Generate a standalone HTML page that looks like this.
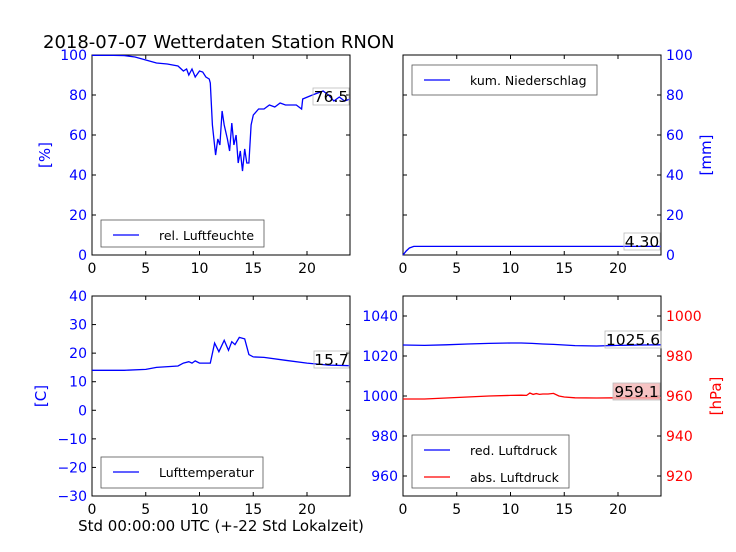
<!DOCTYPE html>
<html><head><meta charset="utf-8"><style>
body{margin:0;background:#fff;}
svg{display:block;font-family:"DejaVu Sans","Liberation Sans",sans-serif;}
</style></head><body>
<svg id="c" width="736" height="552"></svg>
<script>
const hours=[0,2,3,4,5,6,7,8,8.5,8.8,9,9.3,9.6,10,10.3,10.6,10.9,11,11.2,11.5,11.7,11.9,12.1,12.3,12.6,12.8,13,13.2,13.4,13.6,13.8,14,14.2,14.4,14.6,14.8,15,15.5,16,16.5,17,17.5,18,19,19.5,19.6,20.5,21.5,22,22.5,23,23.5,24];
const humidity=[99.8,99.8,99.7,99,97.5,96,95.5,94.5,92,93,90,93,89,92,91.5,89,88,86,65,50,58,55,72,65,58,52,66,55,60,46,52,42,53,46,46,65,70,73,73,75,74,76,75,75,73,78,80,82,80,77,79,77,78];
const tHours=[0,3,5,6,8,8.5,9,9.3,9.6,10,11,11.4,11.8,12.3,12.7,13,13.3,13.7,14.2,14.6,15,16,18,20,22,24];
const temperature=[14,14,14.3,15,15.5,16.5,17,16.5,17.3,16.5,16.5,23.5,20.5,24.5,21,24,23,25.5,25,19.5,18.7,18.5,17.5,16.5,15.8,15.6];
const rHours=[0,0.3,0.6,1,24];
const rain=[0,2,3.5,4.3,4.3];
const pHours=[0,2,4,6,8,10,11,12,13,14,15,16,18,20,22,24];
const pressRed=[1025.5,1025.3,1025.6,1026,1026.3,1026.5,1026.5,1026.3,1026,1025.8,1025.5,1025.2,1025,1025.3,1025.5,1025.6];
const pHoursAbs=[0,2,4,6,8,10,11,11.5,11.8,12.1,12.4,12.7,13,13.5,14,14.5,15,16,18,20,22,24];
const pressAbs=[958.5,958.5,959,959.5,960,960.3,960.4,960.3,961.5,960.8,961.2,960.8,961,961,961.3,960,959.5,959.1,959,959.1,959.1,959.1];
const xTicks=[0,5,10,15,20];
const NS="http://www.w3.org/2000/svg";
const svg=document.getElementById('c');
function mk(t,a,p){const e=document.createElementNS(NS,t);for(const k in a)e.setAttribute(k,a[k]);(p||svg).appendChild(e);return e;}
function txt(s,a,p){const e=mk('text',a,p);e.textContent=s;return e;}
function fmt(t){return t<0?'\u2212'+(-t):String(t);}
function axes(x0,x1,y0,y1,ymin,ymax){return{x:h=>x0+(x1-x0)*h/24,y:v=>y1-(y1-y0)*(v-ymin)/(ymax-ymin),x0,x1,y0,y1};}
function frame(A,name){const g=mk('g',{});
 mk('rect',{x:A.x0,y:A.y0,width:A.x1-A.x0,height:A.y1-A.y0,fill:'none',stroke:'#000','stroke-width':1},g);
 xTicks.forEach(t=>{const x=A.x(t);mk('line',{x1:x,x2:x,y1:A.y1,y2:A.y1-4,stroke:'#000'},g);mk('line',{x1:x,x2:x,y1:A.y0,y2:A.y0+4,stroke:'#000'},g);
  const l=txt(String(t),{x:x,y:A.y1+18,'font-size':14,'text-anchor':'middle'},g);});
 return g;}
function yt(A,g,ticks,ymin,ymax,side,color,mirror){const f=v=>A.y1-(A.y1-A.y0)*(v-ymin)/(ymax-ymin);
 ticks.forEach(t=>{const y=f(t);
  if(side=='l'){mk('line',{x1:A.x0,x2:A.x0+4,y1:y,y2:y,stroke:'#000'},g);const l=txt(fmt(t),{x:A.x0-5,y:y+5,'font-size':14,'text-anchor':'end',fill:color},g);}
  else{mk('line',{x1:A.x1,x2:A.x1-4,y1:y,y2:y,stroke:'#000'},g);const l=txt(fmt(t),{x:A.x1+5,y:y+5,'font-size':14,'text-anchor':'start',fill:color},g);}
  if(mirror){const xx=side=='l'?A.x1:A.x0;mk('line',{x1:xx,x2:side=='l'?xx-4:xx+4,y1:y,y2:y,stroke:'#000'},g);}
 });return f;}
function line(A,xs,ys,f,color,name){const d=xs.map((h,i)=>(i?'L':'M')+A.x(h).toFixed(1)+','+f(ys[i]).toFixed(1)).join('');const p=mk('path',{d:d,fill:'none',stroke:color,'stroke-width':1.3});}
function legend(x,y,w,h,items,name){const g=mk('g',{});
 mk('rect',{x:x,y:y,width:w,height:h,fill:'#fff',stroke:'#555','stroke-width':0.8},g);
 items.forEach((it,i)=>{const yy=y+16+i*27;mk('line',{x1:x+12,x2:x+38,y1:yy-1,y2:yy-1,stroke:it[1],'stroke-width':1.3},g);txt(it[0],{x:x+58,y:yy+4,'font-size':12.5},g);});}
function badge(x,y,w,s,bg,name){const g=mk('g',{});
 mk('rect',{x:x,y:y,width:w,height:17,fill:bg,stroke:'#bbb','stroke-width':0.8,'fill-opacity':bg=='none'?0:0.8},g);txt(s,{x:x+w/2,y:y+14,'font-size':15.5,'text-anchor':'middle'},g);}

txt('2018-07-07 Wetterdaten Station RNON',{x:43,y:48,'font-size':18});

A=axes(92,350,55,255,0,100);let g=frame(A,'humidity-panel');
let f=yt(A,g,[0,20,40,60,80,100],0,100,'l','#00f',true);
line(A,hours,humidity,f,'#00f','humidity-line');
legend(101,220,163,27,[['rel. Luftfeuchte','#00f']],'humidity-legend');
badge(313,88,36,'76.5','none','humidity-value');
txt('[%]',{x:50,y:155,'font-size':15,fill:'#00f','text-anchor':'middle',transform:'rotate(-90 50 155)'});

A=axes(403,661,55,255,0,100);g=frame(A,'rain-panel');
f=yt(A,g,[0,20,40,60,80,100],0,100,'r','#00f',true);
line(A,rHours,rain,f,'#00f','rain-line');
legend(412,65,185,30,[['kum. Niederschlag','#00f']],'rain-legend');
badge(624,233,36,'4.30','none','rain-value');
txt('[mm]',{x:711,y:155,'font-size':15,fill:'#00f','text-anchor':'middle',transform:'rotate(-90 711 155)'});

A=axes(92,350,296,496,-30,40);g=frame(A,'temperature-panel');
f=yt(A,g,[-30,-20,-10,0,10,20,30,40],-30,40,'l','#00f',true);
line(A,tHours,temperature,f,'#00f','temperature-line');
legend(101,457,162,31,[['Lufttemperatur','#00f']],'temperature-legend');
badge(314,351,35,'15.7','none','temperature-value');
txt('[C]',{x:46,y:396,'font-size':15,fill:'#00f','text-anchor':'middle',transform:'rotate(-90 46 396)'});

A=axes(403,661,296,496,950,1050);g=frame(A,'pressure-panel');
f=yt(A,g,[960,980,1000,1020,1040],950,1050,'l','#00f',false);
let f2=yt(A,g,[920,940,960,980,1000],910,1010,'r','#f00',false);
line(A,pHours,pressRed,f,'#00f','reduced-pressure-line');
line(A,pHoursAbs,pressAbs,f2,'#f00','absolute-pressure-line');
legend(412,435,157,53,[['red. Luftdruck','#00f'],['abs. Luftdruck','#f00']],'pressure-legend');
badge(605,331,56,'1025.6','none','reduced-pressure-value');
badge(613,383,47,'959.1','#f4b4b4','absolute-pressure-value');
txt('[hPa]',{x:721,y:396,'font-size':15,fill:'#f00','text-anchor':'middle',transform:'rotate(-90 721 396)'});

txt('Std 00:00:00 UTC (+-22 Std Lokalzeit)',{x:221,y:531,'font-size':15,'text-anchor':'middle'});
</script>
</body></html>
